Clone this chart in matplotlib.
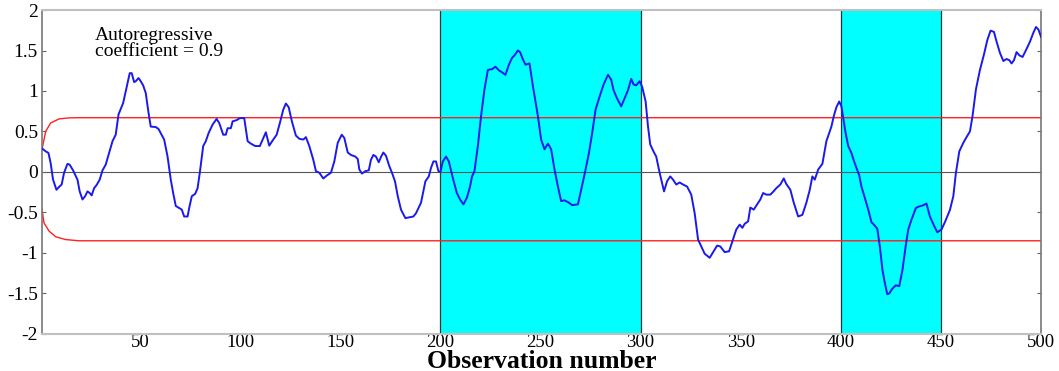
import matplotlib
matplotlib.use("Agg")
import matplotlib.pyplot as plt

plt.rcParams["font.family"] = ["Liberation Serif", "DejaVu Serif"]

# simulated AR(1) series, sampled along the observation axis
obs = [
    1, 2.8, 4.2, 5.3, 6.5, 8.2, 9.5, 10.8, 12, 13.7, 14.8, 16.5, 18.7, 19.8,
    21.2, 22.5, 23.7, 24.8, 25.8, 27, 28.3, 29.8, 31.2, 32.8, 34.5, 36.2,
    37.8, 39.2, 41.5, 43.2, 44.8, 45.8, 47, 47.8, 49.2, 50.3, 51.5, 52.8,
    54.2, 55.3, 57.8, 59.2, 60.3, 62, 63.7, 65.3, 66.5, 67.8, 69.5, 70.8,
    72, 73.7, 74.5, 75.8, 77.5, 78.7, 79.8, 81.5, 82.8, 84.2, 86.2, 88.2,
    89.5, 91.5, 92.8, 93.7, 95.3, 96.2, 98.2, 99.8, 102, 103.7, 105.3,
    107.5, 109.8, 111.2, 112.8, 114.5, 116.5, 118.2, 119.8, 121.5, 122.8,
    124.2, 125.8, 127.8, 129.5, 131.5, 132.8, 134.5, 136.5, 137.8, 139.5,
    141.5, 143.2, 145.3, 147, 148.7, 150.7, 152, 153.7, 155.3, 157.5, 158.7,
    159.5, 160.8, 162.5, 164.2, 165.3, 166.5, 167.8, 169.2, 170.3, 171.5,
    172.8, 174.5, 175.8, 177.3, 178.7, 180.3, 182.5, 184.5, 186.5, 187.8,
    190.3, 192.5, 194.2, 195.3, 196.5, 197.8, 199, 200, 201.2, 202.8, 204.2,
    206.2, 208.2, 209.8, 211.5, 213.2, 214.8, 215.8, 217, 218.7, 220.3, 222,
    223.7, 225.8, 227.5, 229.2, 230.8, 232.5, 234.2, 235.8, 237, 238.7,
    239.8, 241.2, 242.5, 244.5, 246.2, 248.7, 250.3, 252, 253.7, 255.3, 257,
    258.7, 260.3, 262, 264.2, 265.8, 268.7, 270.3, 272, 274.2, 275.8, 277.5,
    279.5, 281.5, 283.7, 285.3, 286.5, 288.2, 290.3, 292, 293.7, 295.3,
    296.5, 297.8, 299.5, 300.8, 302.5, 303.7, 304.8, 306.5, 307.8, 309.5,
    311.7, 313.2, 314.8, 316.2, 317.8, 319.5, 321.2, 323.2, 325.3, 327,
    328.7, 330.3, 332, 334.5, 336.2, 338.2, 339.8, 342, 344.2, 346.2, 347.8,
    349.5, 350.8, 352, 353.7, 354.8, 356.5, 358.2, 359.8, 361.2, 362.8,
    364.8, 366.2, 367.8, 369.8, 371.5, 372.8, 374.8, 376.5, 378.7, 380.8,
    382.8, 384.5, 385.8, 387, 388.7, 390.8, 392.8, 395.3, 396.5, 397.8,
    399.2, 400.3, 402.2, 403.7, 405.3, 406.5, 407.8, 409.2, 410.3, 412,
    413.7, 415.3, 416.5, 418.2, 419.5, 420.8, 422, 423.2, 424.2, 425.8,
    427.5, 429.2, 430.8, 432.5, 433.7, 435.3, 437.5, 439.2, 440.8, 442.8,
    444.5, 446.5, 448.2, 450.3, 452, 454.5, 456.2, 457.5, 459.2, 461.2,
    462.8, 464.5, 465.8, 467.5, 469.5, 471.5, 473.2, 474.8, 476.5, 477.8,
    479.5, 481.2, 482.8, 484.2, 485.3, 486.5, 487.8, 489.2, 490.8, 492.8,
    494.5, 496.2, 497.5, 498.7, 500,
]
series = [
    0.29, 0.255, 0.235, 0.11, -0.095, -0.22, -0.185, -0.155, -0.01, 0.10,
    0.09, 0.02, -0.095, -0.24, -0.34, -0.30, -0.24, -0.26, -0.29, -0.20,
    -0.16, -0.095, 0.02, 0.09, 0.235, 0.38, 0.46, 0.71, 0.85, 1.04, 1.22,
    1.22, 1.11, 1.12, 1.16, 1.12, 1.07, 0.975, 0.73, 0.56, 0.555, 0.53, 0.48,
    0.40, 0.19, -0.095, -0.26, -0.42, -0.445, -0.465, -0.55, -0.55, -0.445,
    -0.30, -0.27, -0.20, -0.01, 0.32, 0.38, 0.48, 0.585, 0.655, 0.605, 0.46,
    0.46, 0.54, 0.54, 0.625, 0.64, 0.665, 0.665, 0.38, 0.35, 0.32, 0.32,
    0.40, 0.49, 0.325, 0.40, 0.46, 0.605, 0.77, 0.845, 0.80, 0.625, 0.45,
    0.41, 0.40, 0.43, 0.32, 0.15, 0.01, -0.01, -0.08, -0.045, -0.01, 0.13,
    0.36, 0.46, 0.42, 0.24, 0.21, 0.19, 0.16, 0.03, -0.02, 0.01, 0.02, 0.15,
    0.21, 0.19, 0.12, 0.185, 0.24, 0.20, 0.07, -0.01, -0.115, -0.30, -0.465,
    -0.57, -0.56, -0.55, -0.51, -0.38, -0.115, -0.055, 0.05, 0.13, 0.13,
    0.01, 0.00, 0.13, 0.19, 0.13, -0.075, -0.26, -0.34, -0.40, -0.32, -0.18,
    -0.055, 0.01, 0.32, 0.69, 1.02, 1.26, 1.27, 1.30, 1.255, 1.23, 1.20,
    1.325, 1.41, 1.44, 1.50, 1.48, 1.39, 1.325, 1.34, 1.06, 0.69, 0.40, 0.28,
    0.35, 0.28, 0.03, -0.18, -0.36, -0.35, -0.38, -0.41, -0.40, -0.22, -0.03,
    0.235, 0.48, 0.77, 0.93, 1.08, 1.20, 1.14, 1.01, 0.91, 0.81, 0.91, 1.01,
    1.15, 1.08, 1.07, 1.12, 1.05, 0.87, 0.56, 0.34, 0.25, 0.19, -0.01, -0.24,
    -0.115, -0.055, -0.095, -0.155, -0.13, -0.155, -0.18, -0.28, -0.51,
    -0.835, -0.92, -1.01, -1.06, -0.99, -0.91, -0.92, -0.99, -0.98, -0.83,
    -0.71, -0.65, -0.69, -0.64, -0.61, -0.44, -0.465, -0.40, -0.34, -0.26,
    -0.28, -0.28, -0.245, -0.20, -0.155, -0.08, -0.15, -0.22, -0.38, -0.55,
    -0.53, -0.38, -0.22, -0.055, -0.095, 0.03, 0.10, 0.38, 0.56, 0.69, 0.80,
    0.87, 0.81, 0.51, 0.32, 0.235, 0.14, 0.05, -0.04, -0.18, -0.32, -0.465,
    -0.62, -0.65, -0.70, -0.92, -1.21, -1.37, -1.51, -1.50, -1.44, -1.40,
    -1.41, -1.21, -0.90, -0.71, -0.59, -0.445, -0.425, -0.415, -0.39, -0.55,
    -0.66, -0.745, -0.71, -0.62, -0.47, -0.30, -0.01, 0.255, 0.36, 0.43,
    0.50, 0.69, 1.02, 1.26, 1.45, 1.63, 1.745, 1.73, 1.61, 1.47, 1.37, 1.395,
    1.38, 1.34, 1.38, 1.48, 1.44, 1.42, 1.52, 1.61, 1.72, 1.79, 1.76, 1.67,
]

# control limits (start-up curve then flat)
upper_x = [1, 2.8, 5.3, 9.5, 14.5, 20, 500]
upper_y = [0.28, 0.50, 0.605, 0.655, 0.668, 0.67, 0.67]
lower_x = [1, 2, 4.5, 7.8, 12.8, 19.5, 500]
lower_y = [-0.465, -0.63, -0.73, -0.80, -0.835, -0.85, -0.85]

# shaded regimes
regimes = [(200, 300), (400, 450)]

fig = plt.figure(figsize=(10.59, 3.71), dpi=100)
ax = fig.add_axes([0.0397, 0.1, 0.9433, 0.873])

for a, b in regimes:
    ax.axvspan(a, b, facecolor="#00ffff", edgecolor="none", zorder=0)
    ax.axvline(a, color="#1a3a3a", lw=0.9, zorder=1)
    ax.axvline(b, color="#1a3a3a", lw=0.9, zorder=1)

ax.axhline(0, color="#555555", lw=0.8, zorder=1)
ax.plot(upper_x, upper_y, color="#ff2020", lw=1.0, zorder=2)
ax.plot(lower_x, lower_y, color="#ff2020", lw=1.0, zorder=2)
ax.plot(obs, series, color="#1a1aee", lw=1.4, zorder=3)

ax.text(27.5, 1.79, "Autoregressive\ncoefficient = 0.9", ha="left", va="top",
        fontsize=14, linespacing=0.95)

ax.set_xlim(1, 500)
ax.set_ylim(-2, 2)
ax.set_xticks(range(50, 501, 50))
ax.set_yticks([-2, -1.5, -1, -0.5, 0, 0.5, 1, 1.5, 2])
ax.set_yticklabels(["-2", "-1.5", "-1", "-0.5", "0", "0.5", "1", "1.5", "2"])
ax.tick_params(axis="both", labelsize=14, length=0, pad=3)
ax.tick_params(axis="x", labelsize=13.5, pad=0)
ax.tick_params(axis="y", right=True, direction="in", length=3, color="#666666")

for side in ["top", "bottom"]:
    ax.spines[side].set_color("#c0c0c0")
    ax.spines[side].set_linewidth(1.5)
for side in ["left", "right"]:
    ax.spines[side].set_color("#777777")
    ax.spines[side].set_linewidth(1.2)

ax.set_xlabel("Observation number", fontsize=18.5, fontweight="bold")
ax.xaxis.label.set_va("baseline")
ax.xaxis.set_label_coords(0.5, -0.104)

fig.savefig("out.png", dpi=100)
